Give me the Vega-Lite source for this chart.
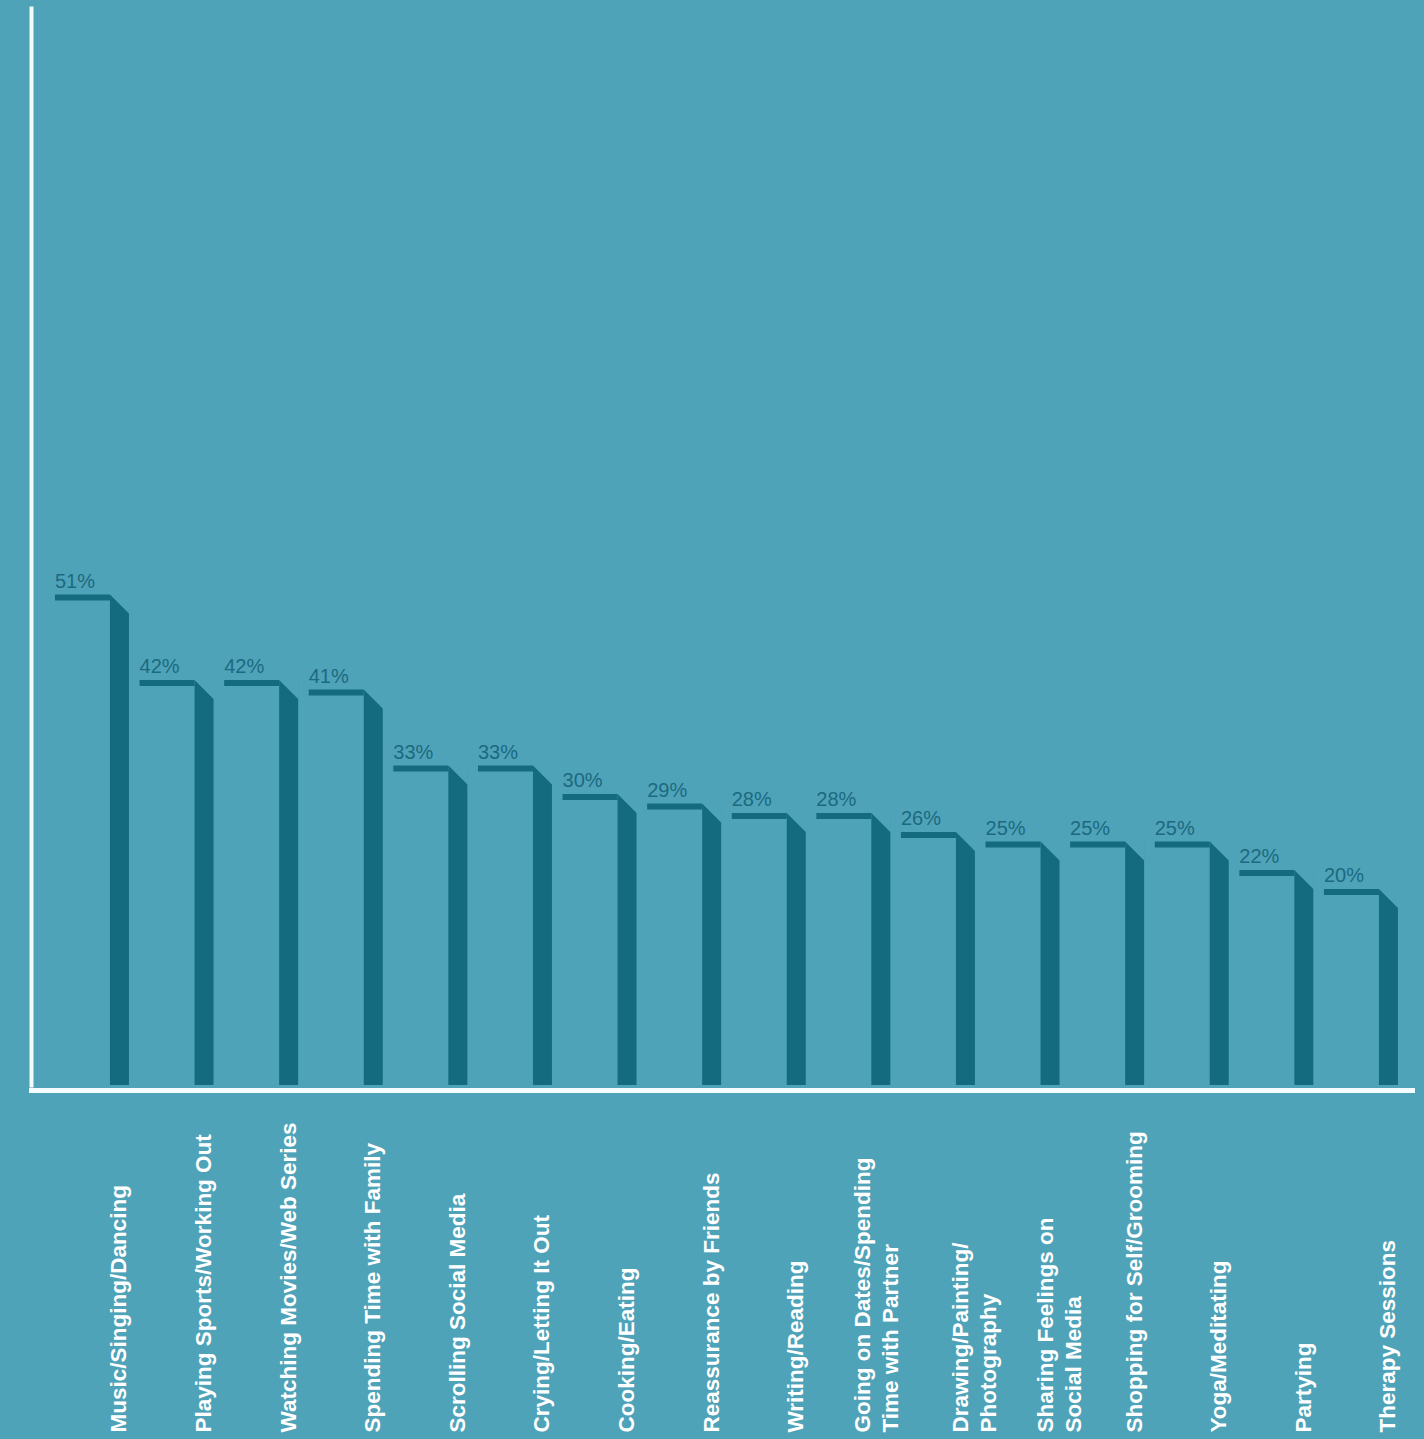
{
  "$schema": "https://vega.github.io/schema/vega-lite/v6.json",
  "width": 1381,
  "height": 1077,
  "autosize": {"type": "none"},
  "padding": {"left": 31, "top": 8, "right": 12, "bottom": 354},
  "background": "#4FA3B9",
  "config": {"view": {"stroke": null}, "font": "Liberation Sans"},
  "data": {
    "values": [
      {"activity": "Music/Singing/Dancing", "share": 0.51},
      {"activity": "Playing Sports/Working Out", "share": 0.42},
      {"activity": "Watching Movies/Web Series", "share": 0.42},
      {"activity": "Spending Time with Family", "share": 0.41},
      {"activity": "Scrolling Social Media", "share": 0.33},
      {"activity": "Crying/Letting It Out", "share": 0.33},
      {"activity": "Cooking/Eating", "share": 0.30},
      {"activity": "Reassurance by Friends", "share": 0.29},
      {"activity": "Writing/Reading", "share": 0.28},
      {"activity": "Going on Dates/Spending|Time with Partner", "share": 0.28},
      {"activity": "Drawing/Painting/|Photography", "share": 0.26},
      {"activity": "Sharing Feelings on|Social Media", "share": 0.25},
      {"activity": "Shopping for Self/Grooming", "share": 0.25},
      {"activity": "Yoga/Meditating", "share": 0.25},
      {"activity": "Partying", "share": 0.22},
      {"activity": "Therapy Sessions", "share": 0.20}
    ]
  },
  "encoding": {
    "x": {
      "field": "activity",
      "type": "nominal",
      "sort": null,
      "scale": {"paddingInner": 0.125, "paddingOuter": 0.2246, "align": 0.63},
      "axis": {
        "title": null,
        "ticks": false,
        "tickSize": 0,
        "domain": true,
        "domainColor": "#F4FCFD",
        "domainWidth": 5,
        "domainCap": "square",
        "offset": 5,
        "labelAngle": -90,
        "labelAlign": "left",
        "labelBaseline": "middle",
        "labelPadding": 342,
        "labelOffset": {
          "condition": [
            {"test": "indexof(datum.value, 'Going') == 0", "value": 10},
            {"test": "indexof(datum.value, '|') >= 0", "value": 23}
          ],
          "value": 27.5
        },
        "labelFont": "Liberation Sans",
        "labelFontWeight": "bold",
        "labelFontSize": 22.5,
        "labelColor": "#FFFFFF",
        "labelLineHeight": 28,
        "labelLimit": 500,
        "labelOverlap": false,
        "labelBound": false,
        "labelExpr": "split(datum.value, '|')"
      }
    },
    "y": {
      "field": "share",
      "type": "quantitative",
      "scale": {"domain": [0, 1.1337], "nice": false, "zero": true},
      "axis": {
        "title": null,
        "labels": false,
        "ticks": false,
        "grid": false,
        "domainColor": "#F4FCFD",
        "domainWidth": 4,
        "domainCap": "square"
      }
    }
  },
  "layer": [
    {
      "mark": {"type": "bar", "width": 55, "xOffset": -9.5, "yOffset": -6, "color": "#146A7E"},
      "encoding": {"y2": {"field": "share"}}
    },
    {
      "mark": {"type": "bar", "width": 19, "xOffset": 27.5, "yOffset": -6, "color": "#146A7E"},
      "encoding": {"y2": {"datum": 0}}
    },
    {
      "mark": {"type": "point", "shape": "M-1,-1L1,-1L1,1Z", "size": 400, "filled": true, "color": "#4FA3B9", "opacity": 1, "strokeWidth": 0, "xOffset": 27.5, "yOffset": 3.5}
    },
    {
      "mark": {"type": "text", "align": "left", "baseline": "alphabetic", "dy": -13, "font": "Liberation Sans", "fontSize": 20, "color": "#1B6A7F"},
      "encoding": {
        "x": {"field": "activity", "type": "nominal", "sort": null, "bandPosition": 0},
        "text": {"field": "share", "type": "quantitative", "format": ".0%"}
      }
    }
  ]
}
